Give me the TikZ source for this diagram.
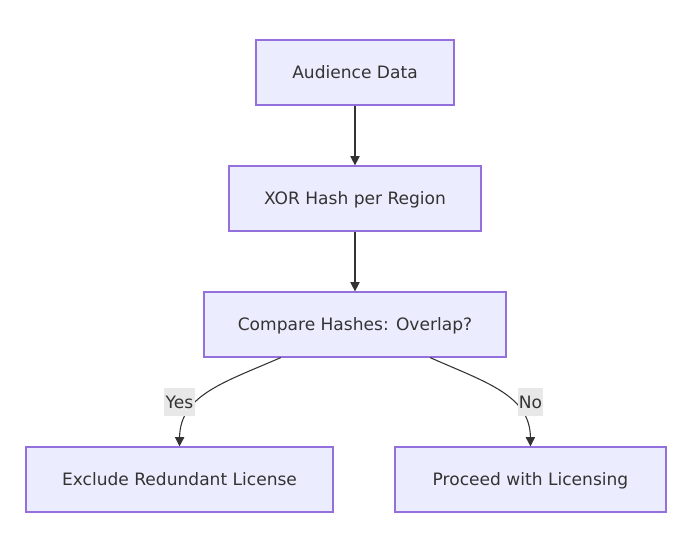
\documentclass[tikz,border=0pt]{standalone}
\usepackage{fontspec}
\setmainfont{DejaVu Sans}
\usetikzlibrary{arrows.meta,calc}

\definecolor{boxfill}{HTML}{ECECFF}
\definecolor{boxline}{HTML}{9370DB}
\definecolor{ink}{HTML}{333333}
\definecolor{labelfill}{HTML}{E8E8E8}

\begin{document}
\begin{tikzpicture}[x=0.75pt, y=-0.75pt, >={Triangle[length=7pt,width=7pt]},
    % Define the style for the process boxes
    box/.style={rectangle, draw=boxline, fill=boxfill, line width=0.9pt,
        minimum height=48.75pt, inner sep=0pt, text=ink,
        text height=9pt, text depth=0pt, font=\fontsize{12.8}{15}\selectfont},
    % Define the style for the edge labels
    edge label/.style={fill=labelfill, text=ink, inner xsep=1pt, inner ysep=0pt,
        minimum height=21pt, text height=9pt, text depth=0pt,
        font=\fontsize{12.8}{15}\selectfont},
    % Define the style for the connecting lines
    connection/.style={->, draw=ink, line width=0.8pt}
]

% Fix the margins of the page
\useasboundingbox (0,0) rectangle (700,558);

% Determine the column of the main chain
\def\midx{355}

% Main chain of boxes
\node[box, minimum width=148.5pt] (audience) at (\midx,72.5) {Audience Data};
\node[box, minimum width=189pt] (xor) at (\midx,198.5) {XOR Hash per Region};
\node[box, minimum width=226.5pt] (compare) at (\midx,324.5) {Compare Hashes: Overlap?};

% The two outcomes
\node[box, minimum width=230.25pt] (exclude) at (179.5,479.5) {Exclude Redundant License};
\node[box, minimum width=203.25pt] (proceed) at (530.5,479.5) {Proceed with Licensing};

% Straight connections down the chain
\draw[connection] (audience) -- (xor);
\draw[connection] (xor) -- (compare);

% Curved connections to the outcomes
\draw[connection] ($(compare.south west)!0.255!(compare.south east)$)
    .. controls (225,382) and (180,395) .. (exclude.north);
\draw[connection] ($(compare.south west)!0.748!(compare.south east)$)
    .. controls (485,382) and (530,395) .. (proceed.north);

% Labels on the curved connections
\node[edge label] (yes) at (179.5,402) {Yes};
\node[edge label] (no) at (530.5,402) {No};

\end{tikzpicture}
\end{document}
